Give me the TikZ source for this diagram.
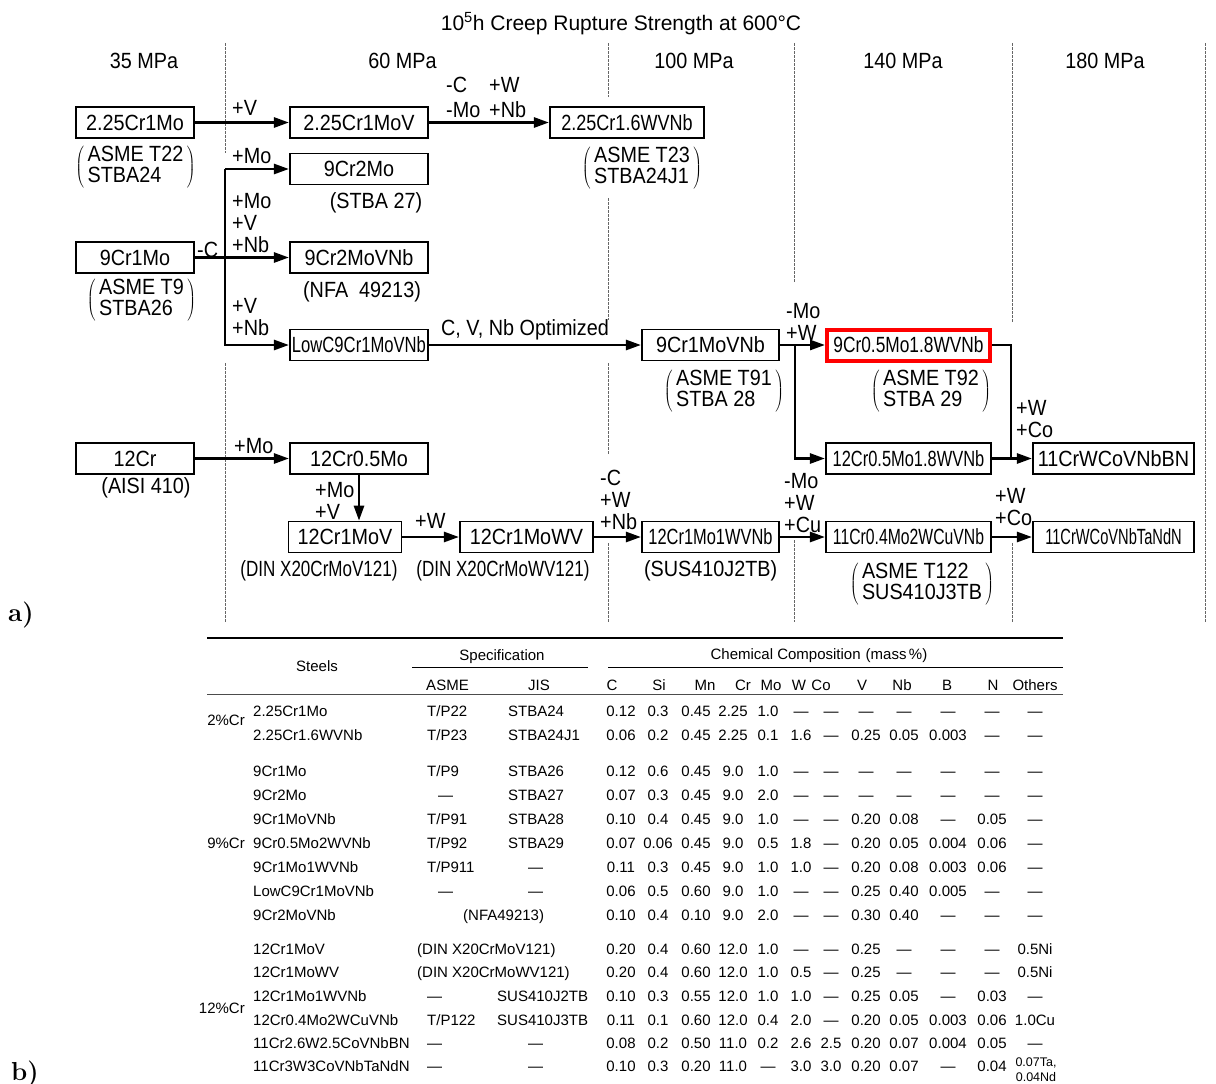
\documentclass[tikz,border=0pt]{standalone}
\usepackage{fontspec}
\usepackage{graphicx}
\usetikzlibrary{arrows.meta}
\newfontfamily\dfont{Liberation Sans}[FakeStretch=0.9]
\newfontfamily\tfont{Liberation Sans}
\newcommand{\squeeze}[2]{\scalebox{#1}[1]{#2}}
\newcommand{\spec}[2]{$\left(\,\begin{tabular}{@{}l@{}}#1\\#2\end{tabular}\,\right)$}

\begin{document}
\begin{tikzpicture}[x=1pt,y=-1pt,
	steel/.style={draw, line width=1.6pt, minimum height=31pt, inner sep=0pt, font=\dfont\fontsize{22}{22}\selectfont},
	hot/.style={steel, draw=red, line width=4pt},
	note/.style={inner sep=0pt, align=left, anchor=north west, font=\dfont\fontsize{22}{22}\selectfont},
	specnote/.style={inner sep=0pt, font=\dfont\fontsize{22}{20}\selectfont},
	flow/.style={line width=2.6pt, -{Triangle[length=15pt,width=10pt]}},
	link/.style={line width=2.6pt},
	colline/.style={line width=0.9pt, black!60, dash pattern=on 2.5pt off 1.5pt},
	tcell/.style={inner sep=0pt, anchor=mid, yshift=-3pt, font=\tfont\fontsize{15}{16}\selectfont}]
	\useasboundingbox (0,0) rectangle (1216,1084);
	\node[inner sep=0pt, anchor=base, font=\tfont\fontsize{21}{21}\selectfont] (title) at (621,30) {10\textsuperscript{5}h Creep Rupture Strength at 600°C};
	\foreach \x/\t [count=\i] in {144/35, 402.5/60, 694/100, 903/140, 1105/180} {\node[note, anchor=base] (mpa\i) at (\x,68) {\t\ MPa};}
	\foreach \x/\a/\b in {225/43/153, 225/363/622, 608/43/97, 608/198/320, 608/363/455, 608/543/622, 794/43/283, 794/540/622, 1012/43/323, 1012/543/622, 1205/43/622} {\draw[colline] (\x,\a) -- (\x,\b);}

	\node[steel, minimum width=118.5pt] (b22) at (135,122.5) {2.25Cr1Mo};
	\node[steel, minimum width=138.5pt] (b22v) at (359,122.5) {2.25Cr1MoV};
	\node[steel, minimum width=154.5pt] (b23) at (627,122.5) {\squeeze{0.91}{2.25Cr1.6WVNb}};
	\node[steel, minimum width=138.5pt] (m92) at (359,169) {9Cr2Mo};
	\node[steel, minimum width=118.5pt] (m91) at (135,257.5) {9Cr1Mo};
	\node[steel, minimum width=138.5pt] (m92v) at (359,257.5) {9Cr2MoVNb};
	\node[steel, minimum width=138.5pt] (lowc) at (359,345) {\squeeze{0.84}{LowC9Cr1MoVNb}};
	\node[steel, minimum width=137.5pt] (m91v) at (710.5,345) {9Cr1MoVNb};
	\node[hot, minimum width=163pt] (t92) at (908.5,345) {\squeeze{0.875}{9Cr0.5Mo1.8WVNb}};
	\node[steel, minimum width=165.5pt] (w12) at (908.5,458.5) {\squeeze{0.83}{12Cr0.5Mo1.8WVNb}};
	\node[steel, minimum width=161.5pt] (bn) at (1113.5,458.5) {11CrWCoVNbBN};
	\node[steel, minimum width=118.5pt] (c12) at (135,458.5) {12Cr};
	\node[steel, minimum width=138.5pt] (c05) at (359,458.5) {12Cr0.5Mo};
	\node[steel, minimum width=113pt] (c1v) at (345,537) {12Cr1MoV};
	\node[steel, minimum width=133.5pt] (c1wv) at (526.5,537) {12Cr1MoWV};
	\node[steel, minimum width=137.5pt] (c1wn) at (710.5,537) {\squeeze{0.83}{12Cr1Mo1WVNb}};
	\node[steel, minimum width=165.5pt] (cuvn) at (908.5,537) {\squeeze{0.795}{11Cr0.4Mo2WCuVNb}};
	\node[steel, minimum width=161.5pt] (tand) at (1113.5,537) {\squeeze{0.74}{11CrWCoVNbTaNdN}};

	\foreach \p/\q in {b22/b22v, b22v/b23, m91/m92v, lowc/m91v, m91v/t92, w12/bn, c12/c05, c1v/c1wv, c1wv/c1wn, c1wn/cuvn, cuvn/tand} {\draw[flow] (\p) -- (\q);}
	\coordinate (br) at (225,257.5); \coordinate (br2) at (795,345); \coordinate (jn) at (1011,458.5);
	\draw[flow] (m92.west -| br) -- (m92.west);
	\draw[flow] (m92.west -| br) |- (lowc.west);
	\draw[flow] (br2) |- (w12.west);
	\draw[link] (t92.east) -| (jn);
	\draw[flow] (c05.south) -- (c05.south |- c1v.north);

	\node[note] (lv1) at (232,100) {+V};
	\node[note] (lc1) at (446,77) {-C\\[3pt]-Mo};
	\node[note] (lw1) at (489,77) {+W\\[3pt]+Nb};
	\node[note] (lmo1) at (232,148) {+Mo};
	\node[note] (lmvn) at (232,193) {+Mo\\+V\\+Nb};
	\node[note] (lc2) at (197,242) {-C};
	\node[note] (lvn) at (232,298) {+V\\+Nb};
	\node[note] (lopt) at (441,319) {C, V, Nb Optimized};
	\node[note] (lmw) at (786,303) {-Mo\\+W};
	\node[note] (lwco1) at (1016,400) {+W\\+Co};
	\node[note] (lmo2) at (234,438) {+Mo};
	\node[note] (lmv) at (315,482) {+Mo\\+V};
	\node[note] (lw2) at (415,513) {+W};
	\node[note] (lcwn) at (600,470) {-C\\+W\\+Nb};
	\node[note] (lmwc) at (784,473) {-Mo\\+W\\+Cu};
	\node[note] (lwco2) at (995,488) {+W\\+Co};

	\node[specnote] (s22) at (135.5,167) {\spec{ASME T22}{STBA24}};
	\node[specnote] (s27) at (376,203) {(STBA 27)};
	\node[specnote] (s9) at (141.5,300) {\spec{ASME T9}{STBA26}};
	\node[specnote] (snfa) at (362,292) {(NFA\ \ 49213)};
	\node[specnote] (s23) at (642,168) {\spec{ASME T23}{STBA24J1}};
	\node[specnote] (s91) at (724,391) {\spec{ASME T91}{STBA 28}};
	\node[specnote] (s92) at (931,391) {\spec{ASME T92}{STBA 29}};
	\node[specnote] (s410) at (146,488) {(AISI 410)};
	\node[specnote] (sdin1) at (319,571) {\squeeze{0.86}{(DIN X20CrMoV121)}};
	\node[specnote] (sdin2) at (503,571) {\squeeze{0.86}{(DIN X20CrMoWV121)}};
	\node[specnote] (ssus) at (710.6,571) {(SUS410J2TB)};
	\node[specnote] (s122) at (922,584) {\spec{ASME T122}{SUS410J3TB}};

	\node[inner sep=0pt, anchor=base west, font=\fontsize{26}{26}\selectfont\bfseries] (pa) at (8,621) {a)};
	\node[inner sep=0pt, anchor=base west, font=\fontsize{26}{26}\selectfont\bfseries] (pb) at (11,1080) {b)};

	\draw[line width=2pt] (207,638) -- (1063,638);
	\draw[line width=1pt] (412,667) -- (588,667);
	\draw[line width=1pt] (608,667) -- (1063,667);
	\draw[line width=1pt, black!70] (207,694) -- (1063,694);
	\node[tcell] (hst) at (317,666) {Steels};
	\node[tcell] (hsp) at (502,655) {Specification};
	\node[tcell] (hcc) at (819,654) {Chemical Composition\hspace{5pt}(mass\,\%)};
	\foreach \x/\t in {447.5/ASME, 539/JIS, 612/C, 659/Si, 705/Mn, 743/Cr, 771/Mo, 799/W, 821/Co, 862/V, 902/Nb, 947/B, 993/N, 1035/Others} {\node[tcell] (h\t) at (\x,685) {\t};}
	\node[tcell, anchor=mid east] (g2) at (245,720) {2\%Cr};
	\node[tcell, anchor=mid east] (g9) at (245,843) {9\%Cr};
	\node[tcell, anchor=mid east] (g12) at (245,1008) {12\%Cr};
	\foreach \ry/\nm/\sa/\xa/\sj/\xj/\vals in {
		711/2.25Cr1Mo/{T/P22}/427/STBA24/508/{0.12,0.3,0.45,2.25,1.0,—,—,—,—,—,—,—},
		735/2.25Cr1.6WVNb/{T/P23}/427/STBA24J1/508/{0.06,0.2,0.45,2.25,0.1,1.6,—,0.25,0.05,0.003,—,—},
		771/9Cr1Mo/{T/P9}/427/STBA26/508/{0.12,0.6,0.45,9.0,1.0,—,—,—,—,—,—,—},
		795/9Cr2Mo/—/438/STBA27/508/{0.07,0.3,0.45,9.0,2.0,—,—,—,—,—,—,—},
		819/9Cr1MoVNb/{T/P91}/427/STBA28/508/{0.10,0.4,0.45,9.0,1.0,—,—,0.20,0.08,—,0.05,—},
		843/9Cr0.5Mo2WVNb/{T/P92}/427/STBA29/508/{0.07,0.06,0.45,9.0,0.5,1.8,—,0.20,0.05,0.004,0.06,—},
		867/9Cr1Mo1WVNb/{T/P911}/427/—/528/{0.11,0.3,0.45,9.0,1.0,1.0,—,0.20,0.08,0.003,0.06,—},
		891/LowC9Cr1MoVNb/—/438/—/528/{0.06,0.5,0.60,9.0,1.0,—,—,0.25,0.40,0.005,—,—},
		915/9Cr2MoVNb/(NFA49213)/463//528/{0.10,0.4,0.10,9.0,2.0,—,—,0.30,0.40,—,—,—},
		949/12Cr1MoV/(DIN X20CrMoV121)/417//528/{0.20,0.4,0.60,12.0,1.0,—,—,0.25,—,—,—,0.5Ni},
		972/12Cr1MoWV/(DIN X20CrMoWV121)/417//528/{0.20,0.4,0.60,12.0,1.0,0.5,—,0.25,—,—,—,0.5Ni},
		996/12Cr1Mo1WVNb/—/427/SUS410J2TB/497/{0.10,0.3,0.55,12.0,1.0,1.0,—,0.25,0.05,—,0.03,—},
		1020/12Cr0.4Mo2WCuVNb/{T/P122}/427/SUS410J3TB/497/{0.11,0.1,0.60,12.0,0.4,2.0,—,0.20,0.05,0.003,0.06,1.0Cu},
		1043/11Cr2.6W2.5CoVNbBN/—/427/—/528/{0.08,0.2,0.50,11.0,0.2,2.6,2.5,0.20,0.07,0.004,0.05,—},
		1066/11Cr3W3CoVNbTaNdN/—/427/—/528/{0.10,0.3,0.20,11.0,—,3.0,3.0,0.20,0.07,—,0.04}} {
		\node[tcell, anchor=mid west] (n\ry) at (253,\ry) {\nm};
		\node[tcell, anchor=mid west] (a\ry) at (\xa,\ry) {\sa};
		\node[tcell, anchor=mid west] (j\ry) at (\xj,\ry) {\sj};
		\foreach \v [count=\i] in \vals {\pgfmathsetmacro\cx{{621,658,696,733,768,801,831,866,904,948,992,1035}[\i-1]} \node[tcell] (v\ry-\i) at (\cx,\ry) {\v};}
	}
	\node[tcell, anchor=center, yshift=0pt, align=center, font=\tfont\fontsize{12.5}{15}\selectfont] (vta) at (1036,1067) {0.07Ta,\\0.04Nd};
\end{tikzpicture}
\end{document}
